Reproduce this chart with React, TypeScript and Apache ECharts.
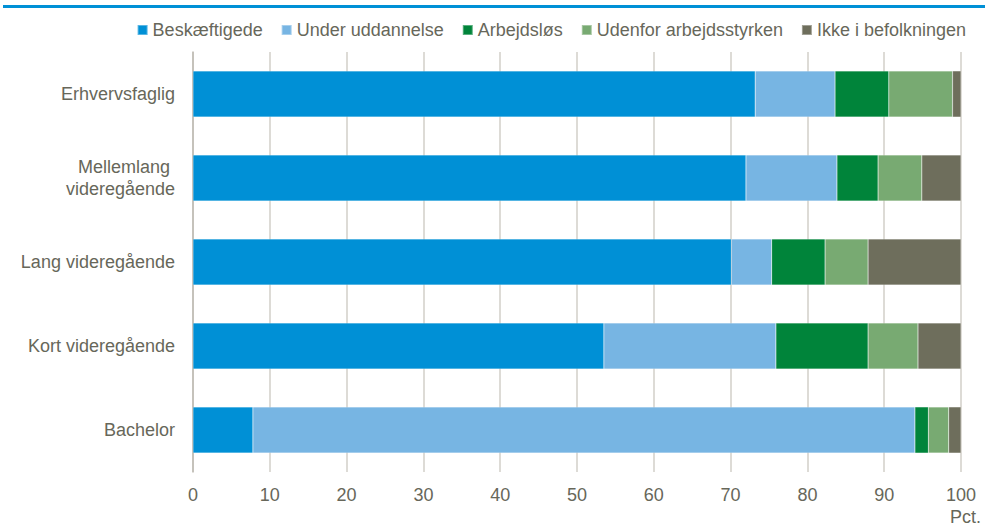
import React, { useEffect, useRef } from "react";
import * as echarts from "echarts";

const categories = ["Erhvervsfaglig", "Mellemlang \nvideregående", "Lang videregående", "Kort videregående", "Bachelor"];
const seriesNames = ["Beskæftigede", "Under uddannelse", "Arbejdsløs", "Udenfor arbejdsstyrken", "Ikke i befolkningen"];
const beskaeftigede = [73.2, 72.0, 70.1, 53.5, 7.8];
const underUddannelse = [10.4, 11.85, 5.25, 22.4, 86.2];
const arbejdsloes = [7.0, 5.35, 6.95, 12.0, 1.75];
const udenfor = [8.3, 5.7, 5.6, 6.5, 2.65];
const ikkeBefolkning = [1.1, 5.1, 12.1, 5.6, 1.6];
const colors = ["#0090d6", "#77b5e3", "#00843a", "#78aa72", "#6e6e5c"];

const FONT = "'Liberation Sans', Arial, sans-serif";
const TEXT = "#67675a";

export default function App() {
  const ref = useRef<HTMLDivElement>(null);
  useEffect(() => {
    if (!ref.current) return;
    const chart = echarts.init(ref.current, null, { renderer: "svg" });
    const data = [beskaeftigede, underUddannelse, arbejdsloes, udenfor, ikkeBefolkning];
    chart.setOption({
      animation: false,
      textStyle: { fontFamily: FONT },
      legend: {
        data: seriesNames,
        right: 14,
        top: 16,
        icon: "rect",
        itemWidth: 10,
        itemHeight: 10,
        itemGap: 18,
        textStyle: { color: TEXT, fontSize: 18, fontFamily: FONT, padding: [0, 0, 0, 0] },
      },
      grid: { left: 193, right: 24, top: 52, bottom: 54, containLabel: false },
      xAxis: {
        type: "value",
        min: 0,
        max: 100,
        interval: 10,
        axisLine: { show: false },
        axisTick: { show: false },
        splitLine: { show: true, lineStyle: { color: "#d2cfc8", width: 1.5 } },
        axisLabel: { color: TEXT, fontSize: 18, fontFamily: FONT, margin: 14 },
      },
      yAxis: {
        type: "category",
        data: categories,
        inverse: true,
        axisLine: { show: true, lineStyle: { color: "#bdbab2", width: 1.5 } },
        axisTick: { show: false },
        axisLabel: { color: TEXT, fontSize: 18, fontFamily: FONT, margin: 18, lineHeight: 22, align: "right" },
      },
      graphic: [
        { type: "rect", left: 3, top: 5, shape: { width: 982, height: 3 }, style: { fill: "#0090d6" } },
        { type: "text", left: 950, top: 508, style: { text: "Pct.", fill: TEXT, font: `18px ${FONT}` } },
      ],
      series: seriesNames.map((name, i) => ({
        name,
        type: "bar",
        stack: "total",
        barCategoryGap: "45%",
        data: data[i],
        itemStyle: { color: colors[i], borderColor: "rgba(255,255,255,0.35)", borderWidth: 0.5 },
      })),
    });
    return () => chart.dispose();
  }, []);
  return <div ref={ref} style={{ width: 985, height: 526, position: "absolute", left: 0, top: 0, background: "#fff" }} />;
}
